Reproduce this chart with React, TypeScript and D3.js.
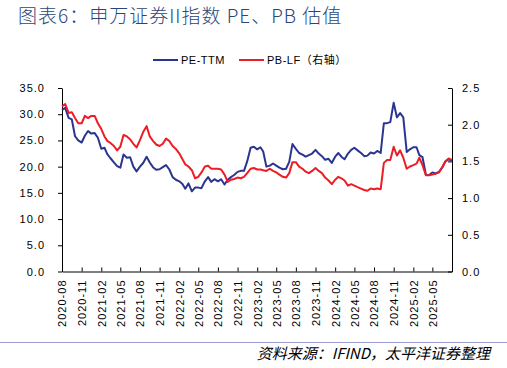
import React, { useEffect, useRef } from "react";
import * as d3 from "d3";

// half-month samples
const dates = [
  "2020-08-01", "2020-08-16", "2020-09-01", "2020-09-16", "2020-10-01", "2020-10-16", "2020-11-01", "2020-11-16", "2020-12-01", "2020-12-16",
  "2021-01-01", "2021-01-16", "2021-02-01", "2021-02-16", "2021-03-01", "2021-03-16", "2021-04-01", "2021-04-16", "2021-05-01", "2021-05-16", "2021-06-01", "2021-06-16",
  "2021-07-01", "2021-07-16", "2021-08-01", "2021-08-16", "2021-09-01", "2021-09-16", "2021-10-01", "2021-10-16", "2021-11-01", "2021-11-16", "2021-12-01", "2021-12-16",
  "2022-01-01", "2022-01-16", "2022-02-01", "2022-02-16", "2022-03-01", "2022-03-16", "2022-04-01", "2022-04-16", "2022-05-01", "2022-05-16", "2022-06-01", "2022-06-16",
  "2022-07-01", "2022-07-16", "2022-08-01", "2022-08-16", "2022-09-01", "2022-09-16", "2022-10-01", "2022-10-16", "2022-11-01", "2022-11-16", "2022-12-01", "2022-12-16",
  "2023-01-01", "2023-01-16", "2023-02-01", "2023-02-16", "2023-03-01", "2023-03-16", "2023-04-01", "2023-04-16", "2023-05-01", "2023-05-16", "2023-06-01", "2023-06-16",
  "2023-07-01", "2023-07-16", "2023-08-01", "2023-08-16", "2023-09-01", "2023-09-16", "2023-10-01", "2023-10-16", "2023-11-01", "2023-11-16", "2023-12-01", "2023-12-16",
  "2024-01-01", "2024-01-16", "2024-02-01", "2024-02-16", "2024-03-01", "2024-03-16", "2024-04-01", "2024-04-16", "2024-05-01", "2024-05-16", "2024-06-01", "2024-06-16",
  "2024-07-01", "2024-07-16", "2024-08-01", "2024-08-16", "2024-09-01", "2024-09-16", "2024-10-01", "2024-10-16", "2024-11-01", "2024-11-16", "2024-12-01", "2024-12-16",
  "2025-01-01", "2025-01-16", "2025-02-01", "2025-02-16", "2025-03-01", "2025-03-16", "2025-04-01", "2025-04-16", "2025-05-01", "2025-05-16", "2025-06-01", "2025-06-16",
  "2025-07-01", "2025-07-16", "2025-08-01"
];

const peTTM = [
  30.8, 31.2, 29.3, 29.0, 25.8, 25.0, 24.6, 25.9, 26.8, 26.3,
  26.4, 25.5, 23.4, 23.6, 22.4, 21.6, 20.8, 20.1, 19.8, 22.3,
  21.7, 21.8, 20.0, 19.1, 20.0, 20.7, 21.9, 20.8, 19.9, 19.4,
  19.5, 19.9, 20.3, 19.5, 18.0, 17.5, 17.2, 16.7, 15.8, 16.8,
  15.3, 16.0, 16.0, 15.9, 17.2, 18.0, 17.1, 17.6, 17.2, 17.6,
  16.6, 17.5, 18.0, 18.4, 19.0, 19.2, 19.2, 21.0, 23.6, 23.8,
  23.3, 23.7, 22.9, 20.0, 20.2, 20.6, 20.2, 19.8, 19.5, 19.6,
  20.9, 24.3, 23.4, 22.6, 22.3, 21.9, 22.2, 22.5, 23.2, 22.5,
  22.0, 21.3, 21.5, 20.7, 21.9, 22.6, 21.9, 21.4, 22.5, 23.2,
  23.6, 23.1, 22.6, 22.0, 22.1, 22.7, 22.5, 23.0, 22.6, 28.3,
  28.3, 28.5, 32.2, 29.4, 30.2, 29.4, 22.8, 23.3, 23.7, 23.7,
  22.2, 21.8, 18.4, 18.4, 18.9, 18.7, 19.0, 19.8, 21.0, 21.4,
  21.1
];

const pbLF = [
  2.25, 2.28, 2.16, 2.17, 2.09, 2.02, 2.02, 2.12, 2.09, 2.12,
  2.12, 2.02, 1.94, 1.84, 1.78, 1.75, 1.71, 1.65, 1.70, 1.86,
  1.84, 1.80, 1.74, 1.69, 1.79, 1.90, 1.98, 1.84, 1.78, 1.73,
  1.71, 1.74, 1.81, 1.78, 1.71, 1.67, 1.61, 1.53, 1.46, 1.43,
  1.38, 1.27, 1.29, 1.35, 1.43, 1.44, 1.40, 1.40, 1.40, 1.39,
  1.32, 1.22, 1.25, 1.26, 1.28, 1.27, 1.29, 1.34, 1.40, 1.41,
  1.39, 1.39, 1.38, 1.37, 1.40, 1.37, 1.35, 1.32, 1.29, 1.28,
  1.34, 1.49, 1.49, 1.43, 1.40, 1.36, 1.34, 1.37, 1.41, 1.37,
  1.34, 1.28, 1.24, 1.19, 1.25, 1.29, 1.27, 1.24, 1.17, 1.19,
  1.17, 1.15, 1.13, 1.11, 1.10, 1.13, 1.12, 1.13, 1.12, 1.48,
  1.52, 1.52, 1.70, 1.58, 1.65, 1.55, 1.40, 1.43, 1.45, 1.47,
  1.55, 1.45, 1.31, 1.31, 1.32, 1.33, 1.35, 1.42, 1.50, 1.54,
  1.52
];

const xTickLabels = [
  "2020-08", "2020-11", "2021-02", "2021-05", "2021-08", "2021-11", "2022-02", "2022-05", "2022-08", "2022-11",
  "2023-02", "2023-05", "2023-08", "2023-11", "2024-02", "2024-05", "2024-08", "2024-11", "2025-02", "2025-05"
];
const leftTicks = [0, 5, 10, 15, 20, 25, 30, 35];
const rightTicks = [0, 0.5, 1, 1.5, 2, 2.5];

const seriesNames = ["PE-TTM", "PB-LF（右轴）"];
const seriesColors = ["#2b3590", "#ee1c25"];

export default function App() {
  const ref = useRef<SVGSVGElement>(null);

  useEffect(() => {
    const svg = d3.select(ref.current);
    svg.selectAll("*").remove();

    const parse = d3.timeParse("%Y-%m-%d");
    const left = 62, right = 452, top = 88, bottom = 271.5;
    const axisFont = "'Liberation Sans', Arial, sans-serif";

    const x = d3.scaleTime()
      .domain([parse("2020-08-01") as Date, parse("2025-08-01") as Date])
      .range([left, right]);
    const yL = d3.scaleLinear().domain([0, 35]).range([bottom, top]);
    const yR = d3.scaleLinear().domain([0, 2.5]).range([bottom, top]);

    // title
    svg.append("text")
      .attr("x", 18).attr("y", 23)
      .attr("font-family", "'Noto Sans CJK SC', sans-serif")
      .attr("font-size", 19)
      .attr("font-weight", 300)
      .attr("fill", "#2a4677")
      .style("letter-spacing", "1px")
      .text("图表6：申万证券II指数 PE、PB 估值");

    // axes
    const styleAxis = (g: any) => {
      g.selectAll("path, line").attr("stroke", "#000").attr("stroke-width", 1);
      g.selectAll("text")
        .attr("font-family", axisFont)
        .attr("font-size", 11)
        .attr("fill", "#000")
        .style("letter-spacing", "1px");
    };

    const gl = svg.append("g")
      .attr("transform", `translate(${left},0)`)
      .call(d3.axisLeft(yL).tickValues(leftTicks).tickFormat(d3.format(".1f"))
        .tickSizeInner(4).tickSizeOuter(0).tickPadding(13));
    gl.call(styleAxis);

    const gr = svg.append("g")
      .attr("transform", `translate(${right},0)`)
      .call(d3.axisRight(yR).tickValues(rightTicks).tickFormat(d3.format(".1f"))
        .tickSizeInner(-4).tickSizeOuter(0).tickPadding(10));
    gr.call(styleAxis);

    const tickDates = xTickLabels.map(m => parse(m + "-01") as Date);
    const gb = svg.append("g")
      .attr("transform", `translate(0,${bottom})`)
      .call(d3.axisBottom(x).tickValues(tickDates).tickFormat(d3.timeFormat("%Y-%m") as any)
        .tickSizeInner(-4).tickSizeOuter(0));
    gb.call(styleAxis);
    gb.selectAll("text")
      .attr("transform", "rotate(-90)")
      .attr("x", -8).attr("y", 0).attr("dy", "0.35em")
      .style("text-anchor", "end");

    // lines
    const pts = dates.map((d, i) => ({ t: parse(d) as Date, pe: peTTM[i], pb: pbLF[i] }));
    const peLine = d3.line<any>().x(d => x(d.t)).y(d => yL(d.pe));
    const pbLine = d3.line<any>().x(d => x(d.t)).y(d => yR(d.pb));

    svg.append("path").datum(pts)
      .attr("d", peLine).attr("fill", "none")
      .attr("stroke", seriesColors[0]).attr("stroke-width", 2)
      .attr("stroke-linejoin", "round");
    svg.append("path").datum(pts)
      .attr("d", pbLine).attr("fill", "none")
      .attr("stroke", seriesColors[1]).attr("stroke-width", 2)
      .attr("stroke-linejoin", "round");

    // legend
    const legendX = [153, 239];
    seriesNames.forEach((name, i) => {
      svg.append("line")
        .attr("x1", legendX[i]).attr("x2", legendX[i] + 25)
        .attr("y1", 60).attr("y2", 60)
        .attr("stroke", seriesColors[i]).attr("stroke-width", 2);
      svg.append("text")
        .attr("x", legendX[i] + 28).attr("y", 64)
        .attr("font-family", axisFont + ", 'Noto Sans CJK SC'")
        .attr("font-size", 11)
        .attr("fill", "#000")
        .style("letter-spacing", "0.5px")
        .text(name);
    });

    // footer
    svg.append("line")
      .attr("x1", 0).attr("x2", 507).attr("y1", 342.5).attr("y2", 342.5)
      .attr("stroke", "#9d9dd2").attr("stroke-width", 1);
    svg.append("text")
      .attr("x", 490).attr("y", 359)
      .attr("text-anchor", "end")
      .attr("font-family", "'Noto Sans CJK SC', sans-serif")
      .attr("font-size", 15)
      .attr("font-style", "italic")
      .attr("fill", "#000")
      .text("资料来源：IFIND，太平洋证券整理");
  }, []);

  return (
    <svg ref={ref} width={507} height={368}
      style={{ position: "absolute", left: 0, top: 0, background: "#fff" }} />
  );
}
